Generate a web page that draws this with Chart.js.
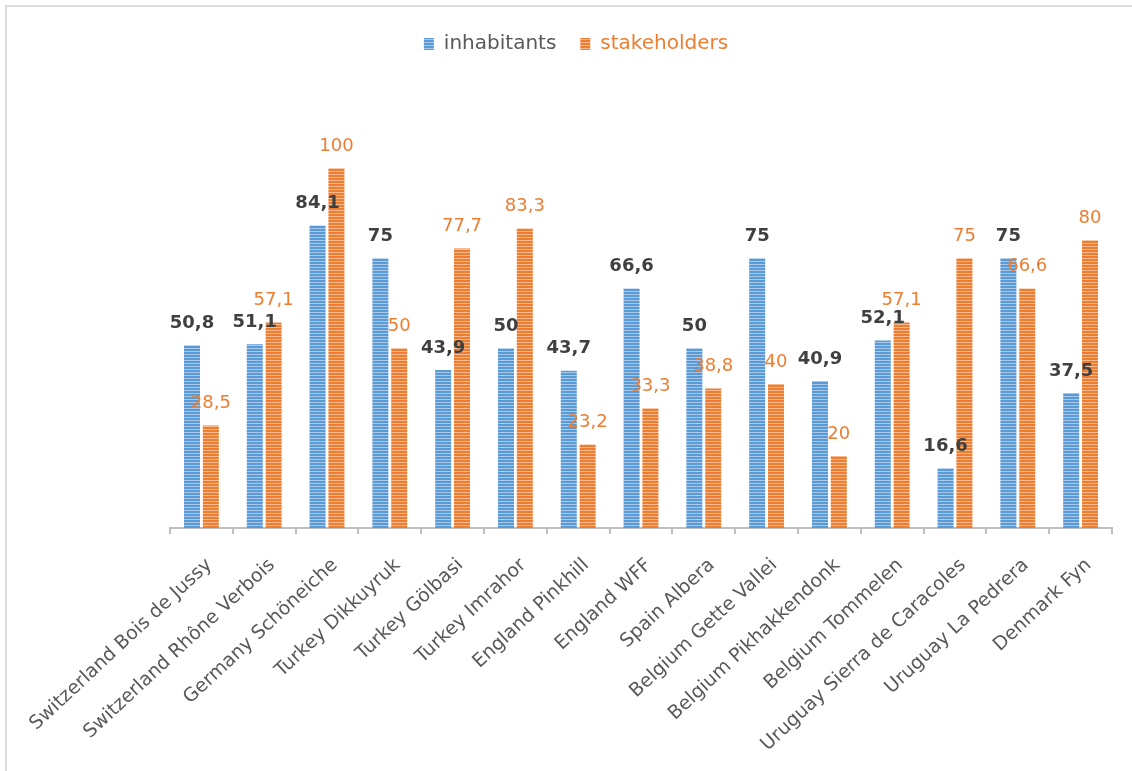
<!DOCTYPE html>
<html>
<head>
<meta charset="utf-8">
<script src="https://cdn.jsdelivr.net/npm/chart.js@4.4.1/dist/chart.umd.min.js"></script>
<style>
  html, body { margin: 0; padding: 0; background: #fff; }
  #wrap { position: relative; width: 1132px; height: 771px; }
  #frame { position: absolute; left: 5px; top: 5px; right: 0; bottom: 0;
           border-left: 2px solid #dcdcdc; border-top: 2px solid #dcdcdc; }
  canvas { position: absolute; left: 0; top: 0; }
</style>
</head>
<body>
<div id="wrap">
  <div id="frame"></div>
  <canvas id="chart" width="1132" height="771"></canvas>
</div>
<script>
/* data */
const sites = [
  "Switzerland Bois de Jussy", "Switzerland Rhône Verbois", "Germany Schöneiche",
  "Turkey Dikkuyruk", "Turkey Gölbasi", "Turkey Imrahor", "England Pinkhill",
  "England WFF", "Spain Albera", "Belgium Gette Vallei", "Belgium Pikhakkendonk",
  "Belgium Tommelen", "Uruguay Sierra de Caracoles", "Uruguay La Pedrera", "Denmark Fyn"
];
const inhabitants  = [50.8, 51.1, 84.1, 75, 43.9, 50, 43.7, 66.6, 50, 75, 40.9, 52.1, 16.6, 75, 37.5];
const stakeholders = [28.5, 57.1, 100, 50, 77.7, 83.3, 23.2, 33.3, 38.8, 40, 20, 57.1, 75, 66.6, 80];

const FONT = "'DejaVu Sans', sans-serif";

/* striped fill like the excel texture */
function stripes(base, light){
  const c = document.createElement("canvas");
  c.width = 4; c.height = 3;
  const g = c.getContext("2d");
  g.fillStyle = base;
  g.fillRect(0, 0, 4, 3);
  g.fillStyle = light;
  g.fillRect(0, 0, 4, 1);
  return g.createPattern(c, "repeat");
}
const blueFill = stripes("#5b9bd5", "#a7c8ea");
const orangeFill = stripes("#ed7d31", "#f6b88c");

/* value labels above bars */
const valueLabels = {
  id: "valueLabels",
  afterDatasetsDraw(chart){
    const ctx = chart.ctx;
    chart.data.datasets.forEach((ds, i) => {
      const meta = chart.getDatasetMeta(i);
      ctx.save();
      ctx.font = (i === 0 ? "bold " : "") + "18px " + FONT;
      ctx.fillStyle = i === 0 ? "#404040" : "#ed7d31";
      ctx.textAlign = "center";
      ctx.textBaseline = "middle";
      meta.data.forEach((bar, j) => {
        const txt = String(ds.data[j]).replace(".", ",");
        ctx.fillText(txt, bar.x, bar.y - 22);
      });
      ctx.restore();
    });
  }
};

new Chart(document.getElementById("chart"), {
  type: "bar",
  data: {
    labels: sites,
    datasets: [
      { label: "inhabitants", data: inhabitants, backgroundColor: blueFill,
        barPercentage: 0.85, categoryPercentage: 0.6 },
      { label: "stakeholders", data: stakeholders, backgroundColor: orangeFill,
        barPercentage: 0.85, categoryPercentage: 0.6 }
    ]
  },
  options: {
    responsive: false,
    animation: false,
    layout: { padding: { left: 20, right: 0, top: 10, bottom: 0 } },
    plugins: {
      tooltip: { enabled: false },
      legend: {
        position: "top",
        labels: {
          boxWidth: 10,
          boxHeight: 12,
          padding: 24,
          font: { family: FONT, size: 20 },
          generateLabels(chart){
            const items = Chart.defaults.plugins.legend.labels.generateLabels(chart);
            items[0].fontColor = "#595959";
            items[1].fontColor = "#ed7d31";
            items.forEach(it => { it.lineWidth = 0; });
            return items;
          }
        }
      }
    },
    scales: {
      x: {
        grid: { display: true, drawOnChartArea: false, drawTicks: true,
                tickLength: 6, color: "#bfbfbf", lineWidth: 2 },
        border: { display: true, color: "#bfbfbf", width: 2 },
        ticks: {
          color: "#595959",
          font: { family: FONT, size: 19 },
          minRotation: 43, maxRotation: 43,
          autoSkip: false,
          padding: 20,
          labelOffset: 8
        },
        afterFit(scale){
          scale.height = 243;
          scale.paddingLeft = 0;
          scale.paddingRight = 20;
        }
      },
      y: {
        min: 0,
        max: 129,
        grid: { display: false },
        border: { display: false },
        ticks: { display: false },
        afterFit(scale){ scale.width = 150; }
      }
    }
  },
  plugins: [valueLabels]
});
</script>
</body>
</html>
